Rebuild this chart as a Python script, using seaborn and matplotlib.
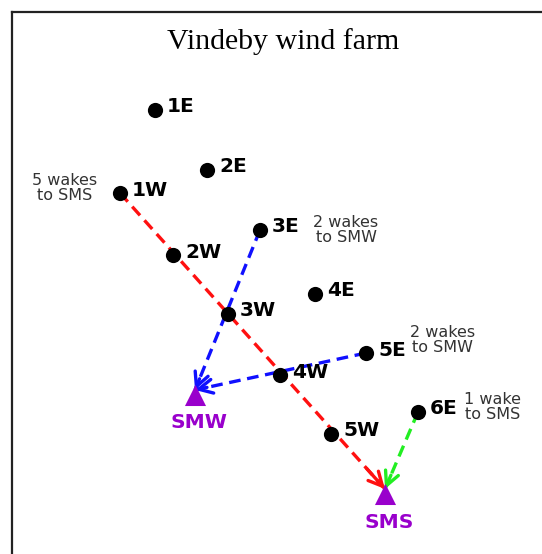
import seaborn as sns
import matplotlib.pyplot as plt
import pandas as pd

# turbine positions (plan coordinates, y grows downward)
turbines = ['1E', '2E', '3E', '4E', '5E', '6E', '1W', '2W', '3W', '4W', '5W']
turb_x = [155, 207, 260, 315, 366, 418, 120, 173, 228, 280, 331]
turb_y = [110, 170, 230, 294, 353, 412, 193, 255, 314, 375, 434]

# met masts
masts = ['SMW', 'SMS']
mast_x = [195, 385]
mast_y = [395, 494]

# wake paths: from turbine to mast
wake_from = ['1W', '3E', '5E', '6E']
wake_to = ['SMS', 'SMW', 'SMW', 'SMS']
wake_color = ['#ff1010', '#1010ff', '#1010ff', '#22ee22']

notes = ['5 wakes\nto SMS', '2 wakes\nto SMW', '2 wakes\nto SMW', '1 wake\nto SMS']
note_x = [65, 346, 443, 493]
note_y = [188, 230, 340, 407]

df_t = pd.DataFrame({'name': turbines, 'x': turb_x, 'y': turb_y})
df_m = pd.DataFrame({'name': masts, 'x': mast_x, 'y': mast_y})

sns.set_style('white')
fig = plt.figure(figsize=(5.42, 5.54), dpi=100)
ax = fig.add_axes([12 / 542, 0, 530 / 542, 542 / 554])
ax.set_xlim(12, 542)
ax.set_ylim(554, 12)
ax.set_xticks([])
ax.set_yticks([])
for s in ['right', 'bottom']:
    ax.spines[s].set_visible(False)
for s in ['left', 'top']:
    ax.spines[s].set_color('#222222')
    ax.spines[s].set_linewidth(1.6)

purple = '#9900cc'
pos = {r['name']: (r['x'], r['y']) for _, r in pd.concat([df_t, df_m]).iterrows()}

# wake lines with arrow heads, ending at the top of the mast triangle
for f, t, c in zip(wake_from, wake_to, wake_color):
    x0, y0 = pos[f]
    x1, y1 = pos[t]
    y1 = y1 - 5
    ax.plot([x0, x1], [y0, y1], ls=(0, (3.5, 2)), color=c, lw=2.4, zorder=2)
    frac = 0.93 if f != '6E' else 0.82
    ax.annotate('', xy=(x1, y1), xytext=(x0 + (x1 - x0) * frac, y0 + (y1 - y0) * frac),
                arrowprops=dict(arrowstyle='->,head_length=1.0,head_width=0.5',
                                color=c, lw=2.4, shrinkA=0, shrinkB=0), zorder=3)

sns.scatterplot(data=df_t, x='x', y='y', ax=ax, color='black', s=120,
                edgecolor='black', linewidth=0, zorder=4, legend=False)
sns.scatterplot(data=df_m, x='x', y='y', ax=ax, color=purple, marker='^', s=230,
                edgecolor=purple, linewidth=0, zorder=4, legend=False)

for _, r in df_t.iterrows():
    ax.text(r['x'] + 12, r['y'] - 3, r['name'], fontsize=14.5, fontweight='bold',
            ha='left', va='center', color='black')
for _, r in df_m.iterrows():
    ax.text(r['x'] + 4, r['y'] + 28, r['name'], fontsize=14.5, fontweight='bold',
            ha='center', va='center', color=purple)

for n, x, y in zip(notes, note_x, note_y):
    ax.text(x, y, n, fontsize=11.5, ha='center', va='center', color='#333333',
            linespacing=1.0)

ax.text(283, 42, 'Vindeby wind farm', fontsize=21.5, family='Liberation Serif',
        ha='center', va='center', color='black')
ax.set_xlabel('')
ax.set_ylabel('')

fig.savefig('out.png', dpi=100)
